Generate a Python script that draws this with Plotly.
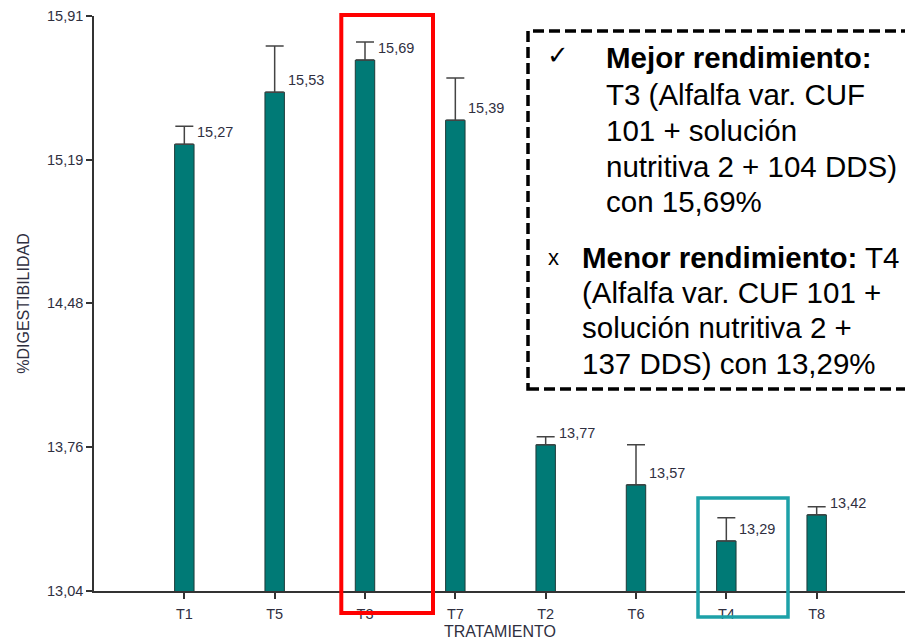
import plotly.graph_objects as go

categories = ["T1", "T5", "T3", "T7", "T2", "T6", "T4", "T8"]
values = [15.27, 15.53, 15.69, 15.39, 13.77, 13.57, 13.29, 13.42]
errors = [0.09, 0.23, 0.09, 0.21, 0.04, 0.20, 0.115, 0.04]
y_ticks = [13.04, 13.76, 14.48, 15.19, 15.91]

OFF = 8  # page body margin
W, H = 913 - OFF, 640 - OFF
# plot area in page pixels: x 94..907, y 16..591
L, T = 94 - OFF, 16 - OFF
R = W - (907 - OFF)
B = H - (591 - OFF)
PW, PH = W - L - R, H - T - B


def px(x):
    return (x - OFF - L) / PW


def py(y):
    return (H - B - (y - OFF)) / PH


TXT = "#2f2f3f"
xs = list(range(len(categories)))

fig = go.Figure()
fig.add_trace(go.Bar(
    x=xs, y=values, width=0.215,
    marker=dict(color="#007A76", line=dict(color="#1d3a38", width=1)),
    error_y=dict(type="data", array=errors, symmetric=False, arrayminus=[0] * len(errors),
                 color="#444444", thickness=1.5, width=9),
    showlegend=False, hoverinfo="skip",
))

annotations = []
for x, v in zip(xs, values):
    annotations.append(dict(
        x=x, y=v, xref="x", yref="y", text=f"{v:.2f}".replace(".", ","),
        showarrow=False, xanchor="left", yanchor="middle", xshift=11, yshift=12,
        font=dict(family="Arial, Liberation Sans", size=14.5, color=TXT),
    ))

annotations.append(dict(
    x=px(500), y=py(631), xref="paper", yref="paper", text="TRATAMIENTO", showarrow=False,
    xanchor="center", yanchor="middle",
    font=dict(family="Arial, Liberation Sans", size=16, color=TXT),
))

box_font = dict(family="Arial, Liberation Sans", size=29.5, color="#000000")
box_lines = [
    (545, 55, "✓", dict(family="DejaVu Sans", size=26, color="#000000")),
    (604, 57, "<b>Mejor rendimiento:</b>", box_font),
    (604, 94, "T3 (Alfalfa var. CUF", box_font),
    (604, 130, "101 + solución", box_font),
    (604, 166, "nutritiva 2 + 104 DDS)", box_font),
    (604, 201, "con 15,69%", box_font),
    (546, 258, "x", dict(family="Arial, Liberation Sans", size=22, color="#000000")),
    (580, 257, "<b>Menor rendimiento:</b> T4", box_font),
    (580, 293, "(Alfalfa var. CUF 101 +", box_font),
    (580, 328, "solución nutritiva 2 +", box_font),
    (580, 363, "137 DDS) con 13,29%", box_font),
]
for x, y, t, f in box_lines:
    annotations.append(dict(
        x=px(x), y=py(y), xref="paper", yref="paper", text=t, showarrow=False,
        xanchor="left", yanchor="middle", font=f,
    ))

shapes = [
    dict(type="rect", xref="paper", yref="paper", x0=px(341.3), x1=px(433), y0=py(613), y1=py(15),
         line=dict(color="#FF0000", width=4), layer="above"),
    dict(type="rect", xref="paper", yref="paper", x0=px(698), x1=px(788), y0=py(617), y1=py(498),
         line=dict(color="#1DA1A8", width=3.5), layer="above"),
    dict(type="rect", xref="paper", yref="paper", x0=px(528), x1=px(925), y0=py(389), y1=py(31),
         line=dict(color="#000000", width=3.5, dash="11px,5px"), fillcolor="white", layer="above"),
]

fig.update_layout(
    width=W, height=H,
    margin=dict(l=L, r=R, t=T, b=B, autoexpand=False),
    paper_bgcolor="white", plot_bgcolor="white",
    separators=",.",
    font=dict(family="Arial, Liberation Sans", color=TXT),
    annotations=annotations,
    shapes=shapes,
    xaxis=dict(
        range=[-1, 8], tickmode="array", tickvals=list(range(len(categories) + 1)),
        ticktext=categories + [""], showgrid=False, zeroline=False,
        showline=True, linecolor="#333333", linewidth=1.5,
        ticks="outside", ticklen=6, tickcolor="#333333", tickwidth=1.5,
        tickfont=dict(size=14.5, color=TXT), ticklabelstandoff=3,
        automargin=False,
    ),
    yaxis=dict(
        range=[13.04, 15.91], tickmode="array", tickvals=y_ticks, tickformat=".2f",
        showgrid=False, zeroline=False,
        showline=True, linecolor="#333333", linewidth=1.5,
        ticks="outside", ticklen=6, tickcolor="#333333", tickwidth=1.5,
        tickfont=dict(size=14.5, color=TXT),
        title=dict(text="%DIGESTIBILIDAD", font=dict(size=16, color=TXT), standoff=13),
        automargin=False,
    ),
)

fig.write_html("out.html")
